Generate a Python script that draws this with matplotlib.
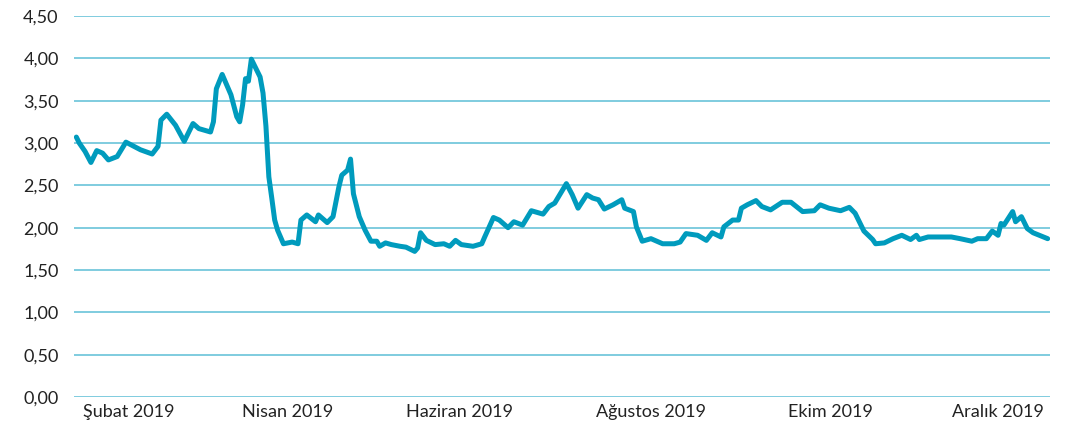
import matplotlib.pyplot as plt
from matplotlib.ticker import FuncFormatter

# trading-day position (days since 1 Feb 2019) and value
days = [0, 1, 3, 5, 7, 9, 11, 14, 17, 22, 26, 28, 29, 31, 34, 37, 40, 42, 46, 47,
        48, 50, 53, 55, 56, 57, 58, 59, 60, 63, 64, 65, 66, 67, 68, 69, 71, 74, 76, 77,
        79, 82, 83, 86, 88, 90, 91, 93, 94, 95, 97, 99, 101, 103, 104, 106, 108, 111, 113, 116,
        117, 118, 120, 123, 126, 128, 130, 132, 136, 139, 140, 143, 145, 148, 150, 153, 156, 160, 162, 164,
        168, 170, 172, 175, 177, 179, 181, 184, 187, 188, 191, 192, 194, 197, 201, 205, 207, 209, 213, 216,
        218, 221, 222, 225, 227, 228, 230, 233, 235, 238, 242, 245, 249, 253, 255, 258, 262, 265, 267, 270,
        273, 274, 277, 280, 283, 286, 288, 289, 292, 296, 300, 303, 307, 309, 312, 314, 316, 317, 318, 321,
        322, 324, 326, 328, 333]
values = [3.07, 3.00, 2.90, 2.77, 2.91, 2.88, 2.80, 2.84, 3.01, 2.92, 2.87, 2.96, 3.27, 3.34, 3.21, 3.02, 3.23, 3.17, 3.13, 3.25,
          3.64, 3.81, 3.57, 3.31, 3.25, 3.45, 3.76, 3.73, 3.99, 3.78, 3.59, 3.20, 2.60, 2.35, 2.09, 1.97, 1.81, 1.83, 1.81, 2.09,
          2.15, 2.07, 2.15, 2.06, 2.13, 2.48, 2.62, 2.68, 2.81, 2.40, 2.13, 1.97, 1.84, 1.84, 1.78, 1.82, 1.80, 1.78, 1.77, 1.72,
          1.76, 1.94, 1.85, 1.80, 1.81, 1.78, 1.85, 1.80, 1.78, 1.81, 1.89, 2.12, 2.09, 2.00, 2.07, 2.03, 2.20, 2.16, 2.25, 2.29,
          2.52, 2.39, 2.23, 2.39, 2.35, 2.33, 2.22, 2.27, 2.33, 2.23, 2.19, 2.01, 1.84, 1.87, 1.81, 1.81, 1.83, 1.93, 1.91, 1.85,
          1.94, 1.89, 2.01, 2.09, 2.09, 2.23, 2.27, 2.32, 2.25, 2.21, 2.30, 2.30, 2.19, 2.20, 2.27, 2.23, 2.20, 2.24, 2.17, 1.96,
          1.86, 1.81, 1.82, 1.87, 1.91, 1.86, 1.91, 1.86, 1.89, 1.89, 1.89, 1.87, 1.84, 1.87, 1.87, 1.96, 1.91, 2.05, 2.03, 2.19,
          2.07, 2.13, 1.99, 1.94, 1.87]

month_labels = ["Şubat 2019", "Nisan 2019", "Haziran 2019", "Ağustos 2019", "Ekim 2019", "Aralık 2019"]
label_pos = [17.8, 72.5, 131.3, 196.9, 258.5, 315.9]
y_ticks = [0, 0.5, 1.0, 1.5, 2.0, 2.5, 3.0, 3.5, 4.0, 4.5]

line_color = "#009bbd"
grid_color = "#5cbfd6"

plt.rcParams['font.family'] = ['Lato', 'DejaVu Sans']

fig = plt.figure(figsize=(10.68, 4.30), dpi=100)
ax = fig.add_axes([74 / 1068, 33 / 430, 976 / 1068, 381 / 430])

for yt in y_ticks:
    ax.axhline(yt, color=grid_color, linewidth=1.1, zorder=1)

ax.plot(days, values, color=line_color, linewidth=3.6, solid_joinstyle='round',
        solid_capstyle='round', zorder=3)

ax.set_xlim(-0.8, 333.8)
ax.set_ylim(0, 4.5)
ax.set_yticks(y_ticks)
ax.yaxis.set_major_formatter(FuncFormatter(lambda v, p: f"{v:.2f}".replace(".", ",")))
ax.set_xticks(label_pos)
ax.set_xticklabels(month_labels)
ax.tick_params(axis='both', length=0, labelsize=13, labelcolor="#222222")
ax.tick_params(axis='y', pad=11)
ax.tick_params(axis='x', pad=5)
for s in ax.spines.values():
    s.set_visible(False)
ax.set_clip_on(False)

fig.savefig("out.png", dpi=100)
